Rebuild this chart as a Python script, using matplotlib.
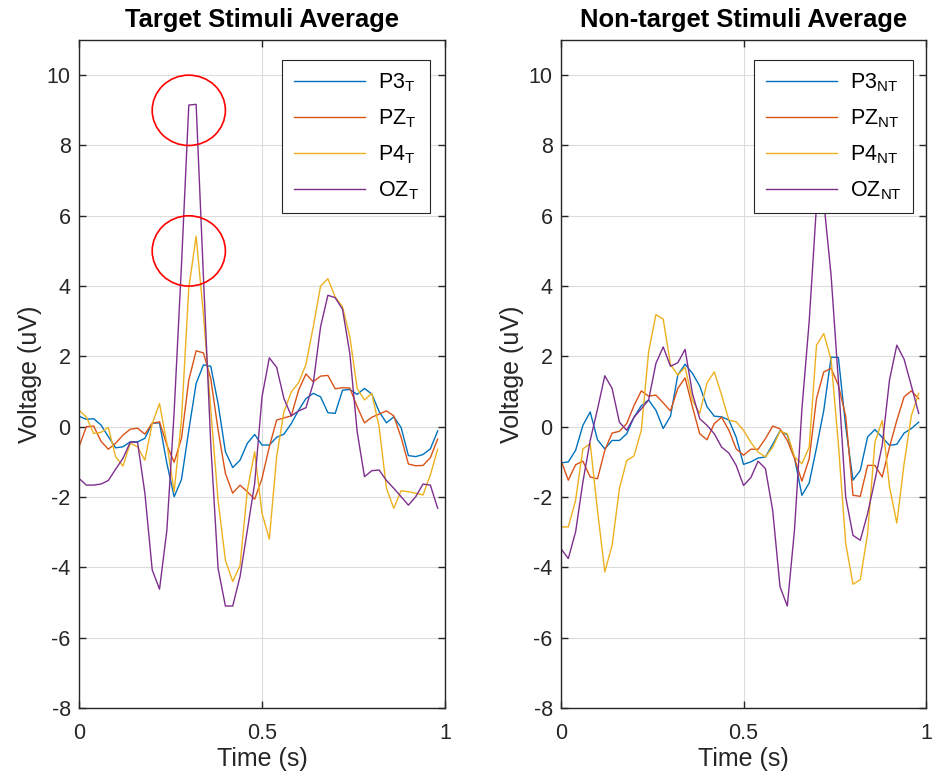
import matplotlib
matplotlib.use("Agg")
import matplotlib.pyplot as plt
from matplotlib.patches import Ellipse
import numpy as np

plt.rcParams['font.family'] = ['Liberation Sans', 'DejaVu Sans']
plt.rcParams['mathtext.fontset'] = 'custom'
plt.rcParams['mathtext.rm'] = 'Liberation Sans'
plt.rcParams['mathtext.it'] = 'Liberation Sans:italic'
plt.rcParams['axes.unicode_minus'] = False

# time axis, 50 samples at 50 Hz
t = np.arange(50) * 0.02

# target stimuli average
p3_t = [0.30, 0.21, 0.23, 0.05, -0.28, -0.60, -0.57, -0.43, -0.43, -0.33,
        0.10, 0.11, -1.04, -1.99, -1.50, -0.10, 1.23, 1.76, 1.72, 0.66,
        -0.71, -1.16, -0.95, -0.47, -0.22, -0.52, -0.52, -0.30, -0.21, 0.09,
        0.47, 0.80, 0.95, 0.85, 0.40, 0.38, 1.04, 1.06, 0.92, 1.09,
        0.93, 0.43, 0.11, 0.28, -0.02, -0.82, -0.85, -0.79, -0.63, -0.12]
pz_t = [-0.57, 0.00, 0.02, -0.41, -0.64, -0.47, -0.24, -0.07, -0.04, -0.21,
        0.10, 0.14, -0.52, -1.01, -0.33, 1.33, 2.16, 2.10, 1.37, -0.09,
        -1.33, -1.89, -1.66, -1.85, -2.06, -1.47, -0.57, 0.19, 0.25, 0.31,
        1.04, 1.50, 1.28, 1.44, 1.46, 1.08, 1.11, 1.10, 0.57, 0.11,
        0.27, 0.36, 0.45, 0.31, -0.30, -1.06, -1.11, -1.10, -0.88, -0.35]
p4_t = [0.47, 0.28, -0.19, -0.16, -0.02, -0.85, -1.12, -0.47, -0.57, -0.95,
        0.09, 0.66, -0.47, -1.85, 0.20, 3.95, 5.42, 3.20, 0.50, -2.10,
        -3.80, -4.40, -3.95, -1.80, -0.71, -2.46, -3.20, -0.85, 0.43, 0.99,
        1.25, 1.77, 2.84, 4.00, 4.21, 3.69, 3.41, 2.56, 1.09, 0.76,
        0.95, 0.00, -1.75, -2.32, -1.82, -1.85, -1.89, -1.94, -1.37, -0.64]
oz_t = [-1.47, -1.66, -1.66, -1.63, -1.53, -1.21, -0.90, -0.44, -0.44, -1.89,
        -4.07, -4.62, -2.95, 0.43, 4.60, 9.15, 9.17, 4.26, -0.50, -4.03,
        -5.10, -5.10, -4.26, -2.94, -1.61, 0.85, 1.96, 1.69, 0.80, 0.31,
        0.45, 0.54, 1.23, 2.84, 3.74, 3.67, 3.34, 2.08, -0.14, -1.42,
        -1.25, -1.23, -1.53, -1.75, -1.99, -2.23, -1.99, -1.63, -1.66, -2.32]

# non-target stimuli average
p3_nt = [-1.03, -1.00, -0.67, 0.04, 0.42, -0.37, -0.63, -0.39, -0.39, -0.20,
         0.27, 0.60, 0.76, 0.47, -0.05, 0.30, 1.47, 1.78, 1.52, 1.16,
         0.57, 0.30, 0.28, 0.19, -0.30, -1.07, -1.00, -0.89, -0.86, -0.50,
         -0.12, -0.23, -0.90, -1.95, -1.60, -0.60, 0.47, 1.98, 1.97, 0.00,
         -1.52, -1.24, -0.29, -0.08, -0.30, -0.53, -0.50, -0.18, -0.05, 0.13]
pz_nt = [-0.96, -1.52, -1.08, -0.98, -1.43, -1.48, -0.67, -0.18, -0.13, 0.09,
         0.60, 1.02, 0.87, 0.90, 0.68, 0.45, 1.09, 1.39, 0.57, -0.20,
         -0.37, 0.09, 0.27, -0.10, -0.63, -0.81, -0.64, -0.64, -0.34, 0.02,
         -0.06, -0.39, -0.91, -1.55, -0.91, 0.80, 1.56, 1.66, 1.18, 0.30,
         -1.95, -1.98, -1.10, -1.10, -1.43, -0.58, 0.18, 0.85, 1.02, 0.80]
p4_nt = [-2.85, -2.85, -2.09, -0.63, -0.48, -2.38, -4.13, -3.37, -1.76, -0.96,
         -0.83, -0.10, 2.13, 3.19, 3.06, 1.77, 1.47, 1.69, 0.76, 0.38,
         1.25, 1.56, 0.90, 0.19, 0.14, -0.10, -0.44, -0.72, -0.86, -0.58,
         -0.13, -0.20, -0.86, -1.05, -0.58, 2.32, 2.65, 1.90, -0.50, -3.32,
         -4.48, -4.35, -3.04, -0.44, 0.18, -1.71, -2.74, -1.05, 0.32, 0.95]
oz_nt = [-3.47, -3.75, -2.99, -1.57, -0.39, 0.50, 1.45, 1.09, 0.13, -0.10,
         0.27, 0.51, 0.76, 1.80, 2.27, 1.72, 1.82, 2.20, 0.95, 0.23,
         0.04, -0.20, -0.58, -0.75, -1.10, -1.67, -1.45, -0.98, -1.19, -2.38,
         -4.55, -5.10, -2.90, 0.50, 3.00, 6.30, 6.40, 4.30, 1.30, -2.00,
         -3.09, -3.23, -2.47, -1.52, -0.53, 1.33, 2.32, 1.92, 1.16, 0.38]

colors = ['#0072BD', '#D95319', '#EDB120', '#7E2F8E']
names = ['P3', 'PZ', 'P4', 'OZ']

# highlighted peaks on the target plot (center t, center V)
circ_t = [0.30, 0.30]
circ_v = [9.0, 5.0]

W, H = 935, 776
fig = plt.figure(figsize=(W / 100, H / 100), dpi=100)
ax1 = fig.add_axes([79 / W, (H - 708) / H, 366 / W, 668 / H])
ax2 = fig.add_axes([561 / W, (H - 708) / H, 365 / W, 668 / H])

panels = [(ax1, [p3_t, pz_t, p4_t, oz_t], 'T', 'Target Stimuli Average', 0.959),
          (ax2, [p3_nt, pz_nt, p4_nt, oz_nt], 'NT', 'Non-target Stimuli Average', 0.964)]

for ax, series, sub, title, lx in panels:
    for y, c, n in zip(series, colors, names):
        ax.plot(t, y, color=c, lw=1.0, label=n + r'$_\mathrm{' + sub + '}$')
    ax.set_xlim(0, 1)
    ax.set_ylim(-8, 11)
    ax.set_xticks([0, 0.5, 1])
    ax.set_xticklabels(['0', '0.5', '1'])
    ax.set_yticks(np.arange(-8, 11, 2))
    ax.grid(True, color='#dcdcdc', lw=0.8)
    ax.set_axisbelow(True)
    for s in ax.spines.values():
        s.set_color('#262626')
        s.set_linewidth(1.0)
    ax.tick_params(direction='in', length=5, width=1.0, color='#262626',
                   labelsize=15.5, labelcolor='#262626', top=True, right=True,
                   pad=6)
    ax.tick_params(axis='x', pad=11)
    ax.set_xlabel('Time (s)', fontsize=18, color='#262626', labelpad=2)
    ax.set_ylabel('Voltage (uV)', fontsize=18, color='#262626', labelpad=3)
    ax.set_title(title, fontsize=18.4, fontweight='bold', pad=9)
    leg = ax.legend(loc='upper right', bbox_to_anchor=(lx, 0.970),
                    borderaxespad=0, fancybox=False, framealpha=1,
                    edgecolor='#262626', fontsize=15.5, handlelength=3.3,
                    labelspacing=0.62, borderpad=0.53, handletextpad=0.6)
    leg.get_frame().set_linewidth(0.8)

for ct, cv in zip(circ_t, circ_v):
    ax1.add_patch(Ellipse((ct, cv), 0.2, 2.0, fill=False, ec='red', lw=1.2, zorder=5))

fig.savefig('out.png', dpi=100)
